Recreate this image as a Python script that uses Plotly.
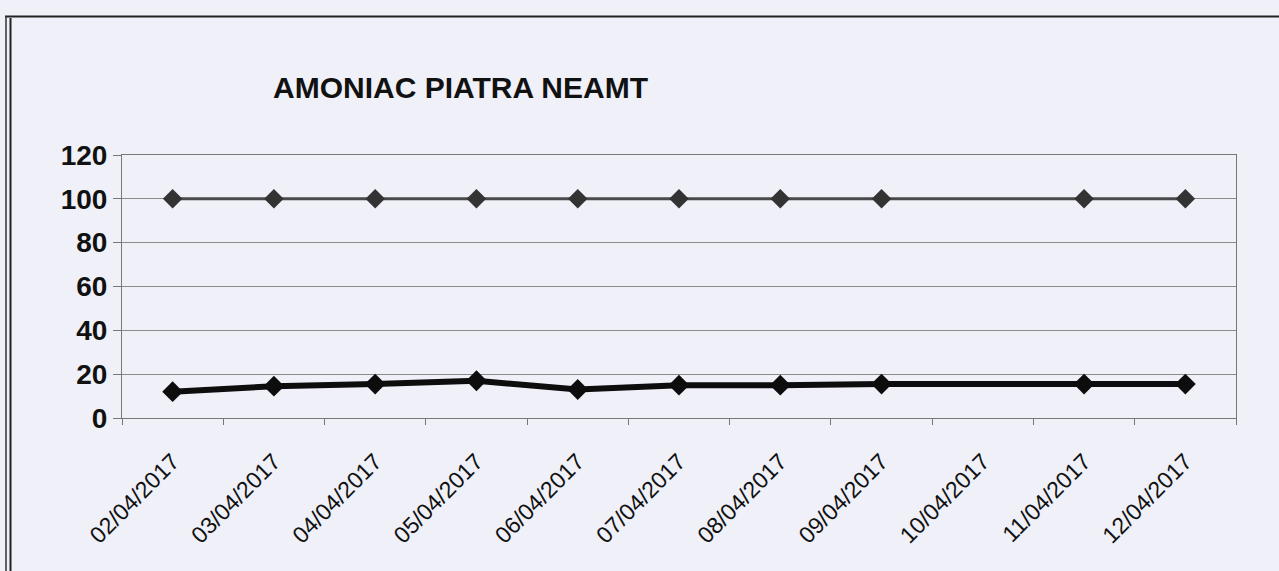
import plotly.graph_objects as go

dates = ["02/04/2017", "03/04/2017", "04/04/2017", "05/04/2017", "06/04/2017",
         "07/04/2017", "08/04/2017", "09/04/2017", "10/04/2017", "11/04/2017", "12/04/2017"]
limit_values = [100, 100, 100, 100, 100, 100, 100, 100, None, 100, 100]
measured_values = [12, 14.5, 15.5, 17, 13, 15, 15, 15.5, None, 15.5, 15.5]
y_ticks = [0, 20, 40, 60, 80, 100, 120]
title_text = "AMONIAC PIATRA NEAMT"

W, H = 1279, 571
L, R, T, B = 122, 1236, 155, 418
BG = "#eff0f8"

fig = go.Figure()
fig.add_trace(go.Scatter(
    x=dates, y=limit_values, mode="lines+markers", connectgaps=True,
    line=dict(color="#4a4a4a", width=3),
    marker=dict(symbol="diamond", size=15, color="#333333"),
    showlegend=False))
fig.add_trace(go.Scatter(
    x=dates, y=measured_values, mode="lines+markers", connectgaps=True,
    line=dict(color="#0d0d0d", width=6),
    marker=dict(symbol="diamond", size=16, color="#0d0d0d"),
    showlegend=False))

def px_x(px):
    return (px - L) / (R - L)

def px_y(py):
    return (B - py) / (B - T)

shapes = [
    dict(type="line", xref="paper", yref="paper", x0=px_x(5), x1=px_x(1285), y0=px_y(16.5), y1=px_y(16.5),
         line=dict(color="#222222", width=2)),
    dict(type="line", xref="paper", yref="paper", x0=px_x(6), x1=px_x(6), y0=px_y(16), y1=px_y(580),
         line=dict(color="#333333", width=1.5)),
    dict(type="line", xref="paper", yref="paper", x0=px_x(10.5), x1=px_x(10.5), y0=px_y(18), y1=px_y(580),
         line=dict(color="#222222", width=2)),
]

fig.update_layout(
    width=W, height=H,
    margin=dict(l=L, r=W - R, t=T, b=H - B, autoexpand=False),
    paper_bgcolor=BG, plot_bgcolor=BG,
    font=dict(family="Arial, Liberation Sans, sans-serif", color="#111111"),
    shapes=shapes,
    annotations=[dict(text="<b>" + title_text + "</b>", xref="paper", yref="paper",
                      x=px_x(271), y=px_y(88), xanchor="left", yanchor="middle",
                      showarrow=False, font=dict(size=30, color="#111111"))],
)
fig.update_xaxes(
    type="category", categoryorder="array", categoryarray=dates,
    tickson="boundaries", ticks="outside", ticklen=6, tickcolor="#777777",
    showline=True, linecolor="#777777", linewidth=1, mirror=True,
    showgrid=False, tickangle=-45, tickfont=dict(size=23, color="#111111"),
    ticklabelstandoff=20,
    range=[-0.5, len(dates) - 0.5])
fig.update_yaxes(
    range=[0, 120], tickvals=y_ticks, ticktext=["<b>%d</b>" % v for v in y_ticks],
    ticks="outside", ticklen=8, tickcolor="#777777",
    showline=True, linecolor="#777777", linewidth=1, mirror=True,
    showgrid=True, gridcolor="#8a8a8a", gridwidth=1,
    tickfont=dict(size=28, color="#111111"), zeroline=False)

fig.write_html("out.html", config={"displayModeBar": False},
               post_script="document.body.style.margin='0';document.body.style.background='" + BG + "';")
